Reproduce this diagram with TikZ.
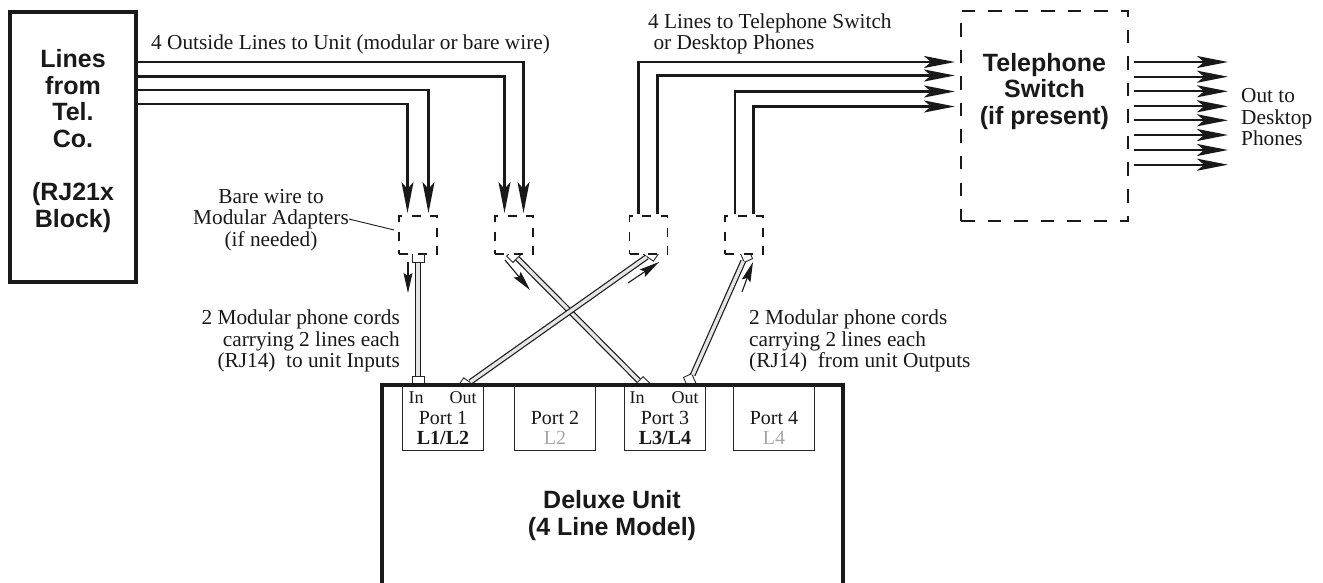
\documentclass[tikz,border=0pt]{standalone}
\usepackage{fontspec}
\setmainfont{Liberation Serif}
\newfontfamily\hdfont{Liberation Sans}
\usetikzlibrary{arrows.meta}
\tikzset{
  x=1pt,y=-1pt,
  lbl/.style={inner sep=0pt,font=\fontsize{21.3}{21.5}\selectfont,text=black!90},
  hd/.style={inner sep=0pt,align=center,font=\hdfont\bfseries\fontsize{25}{26.7}\selectfont,text=black!90},
  portlbl/.style={inner sep=0pt,align=center,font=\fontsize{20}{20}\selectfont,text=black!90},
  iolbl/.style={inner sep=0pt,font=\fontsize{18}{18}\selectfont,text=black!90},
  adapter/.style={draw=black!90,fill=white,line width=1.8pt,dash pattern=on 9pt off 9.5pt,minimum width=38pt,minimum height=38pt,inner sep=0pt},
  portbox/.style={draw=black!85,line width=1pt,minimum width=81pt,minimum height=65pt,inner sep=0pt},
  plugbox/.style={draw=black!85,fill=white,line width=0.9pt,minimum width=12pt,minimum height=9pt,inner sep=0pt},
  wire/.style={draw=black!90,line width=2.2pt,-{Stealth[length=31pt,width=12pt,inset=7pt]}},
  thinarrow/.style={draw=black!90,line width=1.1pt,-{Stealth[length=20pt,width=9pt,inset=3pt]}},
  cable/.style={draw=black!90,line width=1.2pt,double=black!10,double distance=3.4pt},
  leader/.style={draw=black!90,line width=0.9pt},
}
\begin{document}
\begin{tikzpicture}
\useasboundingbox (0,0) rectangle (1323,583);
% main boxes
\node[draw=black!90,line width=4pt,minimum width=126pt,minimum height=269pt,inner sep=0pt] (lines) at (72.5,147) {};
\node[hd] (linestxt) at (73,141) {Lines\\from\\Tel.\\Co.\\[26.7pt](RJ21x\\Block)};
\node[draw=black!90,line width=2.6pt,dash pattern=on 13.5pt off 13pt,minimum width=167pt,minimum height=210pt,inner sep=0pt] (switch) at (1044.5,116) {};
\node[hd] (switchtxt) at (1044.5,91.5) {Telephone\\Switch\\(if present)};
% unit
\coordinate (ubl) at (382,590);
\coordinate (utl) at (382,385);
\coordinate (utr) at (843,385);
\coordinate (ubr) at (843,590);
% plugs
\node[plugbox] (p1t) at (418,258) {};
\node[plugbox] (p1b) at (418,381) {};
\node[plugbox,rotate=-35] (p2a) at (466,385) {};
\node[plugbox,rotate=-35] (p2b) at (651,254) {};
\node[plugbox,rotate=45] (p3a) at (514,255) {};
\node[plugbox,rotate=45] (p3b) at (642,384) {};
\node[plugbox,rotate=-66] (p4a) at (690,381) {};
\node[plugbox,rotate=-66] (p4b) at (746,255) {};
\draw[cable] (p3a) -- (p3b);
\draw[cable] (p2a) -- (p2b);
\draw[cable] (p1t) -- (p1b);
\draw[cable] (p4a) -- (p4b);
% unit outline
\path[fill=white] (ubl) -- (utl) -- (utr) -- (ubr) -- cycle;
\draw[draw=black!90,line width=4pt,miter limit=10] (ubl) -- (utl) -- (utr) -- (ubr);
\node[hd] (unit) at (612,515.5) {Deluxe Unit\\(4 Line Model)};
% ports
\node[portbox] (port1) at (443,418) {};
\node[portbox] (port2) at (554.5,418) {};
\node[portbox] (port3) at (664.5,418) {};
\node[portbox] (port4) at (774,418) {};
\draw[draw=black!90,line width=4pt] (utl) -- (utr);
\node[iolbl] (in1) at (416,398) {In};
\node[iolbl] (out1) at (463,398) {Out};
\node[iolbl] (in3) at (637,398) {In};
\node[iolbl] (out3) at (685,398) {Out};
\node[portlbl] (pt1) at (443,428) {Port 1\\\textbf{L1/L2}};
\node[portlbl] (pt2) at (555,428) {Port 2\\\textcolor{black!35}{L2}};
\node[portlbl] (pt3) at (665,428) {Port 3\\\textbf{L3/L4}};
\node[portlbl] (pt4) at (774,428) {Port 4\\\textcolor{black!35}{L4}};
% adapters
\node[adapter] (a1) at (418,235) {};
\node[adapter] (a2) at (514,235) {};
\node[adapter] (a3) at (648.5,235) {};
\node[adapter] (a4) at (744,235) {};
% incoming wires
\coordinate (w1) at (523.5,62);
\coordinate (w2) at (504.5,76.5);
\coordinate (w3) at (428.5,90);
\coordinate (w4) at (407.5,104);
\coordinate (e1) at (523.5,213);
\coordinate (e2) at (504.5,213);
\coordinate (e3) at (428.5,213);
\coordinate (e4) at (407.5,213);
\draw[wire] (lines.east |- w1) -- (w1) -- (e1);
\draw[wire] (lines.east |- w2) -- (w2) -- (e2);
\draw[wire] (lines.east |- w3) -- (w3) -- (e3);
\draw[wire] (lines.east |- w4) -- (w4) -- (e4);
% outgoing wires
\coordinate (s1) at (638.5,214);
\coordinate (s2) at (657.5,214);
\coordinate (s3) at (735,214);
\coordinate (s4) at (753.5,214);
\coordinate (c1) at (638.5,62);
\coordinate (c2) at (657.5,75.5);
\coordinate (c3) at (735,91.5);
\coordinate (c4) at (753.5,106.5);
\coordinate (t1) at (955,62);
\coordinate (t2) at (955,75.5);
\coordinate (t3) at (955,91.5);
\coordinate (t4) at (955,106.5);
\draw[wire] (s1) -- (c1) -- (t1);
\draw[wire] (s2) -- (c2) -- (t2);
\draw[wire] (s3) -- (c3) -- (t3);
\draw[wire] (s4) -- (c4) -- (t4);
% out to desktop
\foreach \n/\yy in {1/62,2/76.7,3/91.3,4/106.3,5/120.3,6/135,7/150,8/164.7}{
  \coordinate (ds\n) at (1134,\yy);
  \coordinate (de\n) at (1228,\yy);
  \draw[wire] (ds\n) -- (de\n);
}
% small arrows
\coordinate (f1) at (408,262); \coordinate (g1) at (408,293);
\coordinate (f2) at (505,260); \coordinate (g2) at (530,290);
\coordinate (f3) at (628,283); \coordinate (g3) at (659,262);
\coordinate (f4) at (742,292); \coordinate (g4) at (753,262);
\draw[thinarrow] (f1) -- (g1);
\draw[thinarrow] (f2) -- (g2);
\draw[thinarrow] (f3) -- (g3);
\draw[thinarrow] (f4) -- (g4);
% labels
\node[lbl,anchor=west] (outside) at (151,44) {4 Outside Lines to Unit (modular or bare wire)};
\node[lbl,anchor=west,align=left] (tosw) at (648,34) {4 Lines to Telephone Switch\\\ or Desktop Phones};
\node[lbl,anchor=west,align=left] (outd) at (1241,117.5) {Out to\\Desktop\\Phones};
\node[lbl,align=center] (bare) at (271,220) {Bare wire to\\Modular Adapters\\(if needed)};
\coordinate (ld) at (394,230);
\draw[leader] (bare.east |- 0,219) -- (ld);
\node[lbl,anchor=east,align=right] (cordsin) at (400,341) {2 Modular phone cords\\carrying 2 lines each\\(RJ14)\ \ to unit Inputs};
\node[lbl,anchor=west,align=left] (cordsout) at (749,341) {2 Modular phone cords\\carrying 2 lines each\\(RJ14)\ \ from unit Outputs};
\end{tikzpicture}
\end{document}
